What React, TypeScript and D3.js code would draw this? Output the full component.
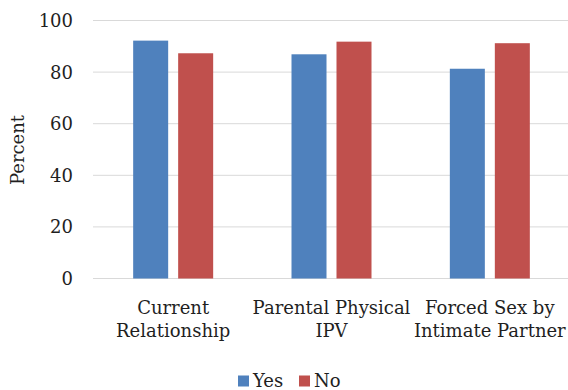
import React from "react";
import * as d3 from "d3";

const categories: string[][] = [
  ["Current", "Relationship"],
  ["Parental Physical", "IPV"],
  ["Forced Sex by", "Intimate Partner"],
];
const seriesNames = ["Yes", "No"];
const yesValues = [92.2, 86.9, 81.3];
const noValues = [87.3, 91.8, 91.2];
const yTicks = [0, 20, 40, 60, 80, 100];
const colors = ["#4f81bd", "#c0504d"];

const W = 568;
const H = 390;
const FONT = "'DejaVu Serif', serif";
const FS = 18;

export default function App() {
  const y = d3.scaleLinear().domain([0, 100]).range([278.5, 20.5]);
  const keys = categories.map((c) => c.join(" "));
  const x0 = d3.scaleBand<string>().domain(keys).range([94, 569]).padding(0);
  const groupW = 80;
  const x1 = d3
    .scaleBand<string>()
    .domain(seriesNames)
    .range([0, groupW])
    .paddingInner(0.222)
    .paddingOuter(0);
  const values = [yesValues, noValues];

  return (
    <svg
      width={W}
      height={H}
      style={{ position: "absolute", left: 0, top: 0, background: "#fff" }}
      fontFamily={FONT}
    >
      {yTicks.map((t) => (
        <g key={t}>
          <line x1={93} x2={568} y1={y(t)} y2={y(t)} stroke="#d9d9d9" strokeWidth={1} />
          <text x={73} y={y(t)} dy="0.36em" textAnchor="end" fontSize={FS} fill="#1f1f1f">
            {t}
          </text>
        </g>
      ))}
      <text
        transform={`translate(24,150) rotate(-90)`}
        textAnchor="middle"
        fontSize={FS}
        fill="#1f1f1f"
      >
        Percent
      </text>
      {keys.map((k, i) => {
        const gx = (x0(k) ?? 0) + x0.bandwidth() / 2 - groupW / 2;
        return (
          <g key={k}>
            {seriesNames.map((s, j) => (
              <rect
                key={s}
                x={gx + (x1(s) ?? 0)}
                y={y(values[j][i])}
                width={x1.bandwidth()}
                height={y(0) - y(values[j][i])}
                fill={colors[j]}
              />
            ))}
            {categories[i].map((line, li) => (
              <text
                key={li}
                x={(x0(k) ?? 0) + x0.bandwidth() / 2}
                y={313.5 + li * 23.5}
                textAnchor="middle"
                fontSize={FS}
                fill="#1f1f1f"
              >
                {line}
              </text>
            ))}
          </g>
        );
      })}
      {seriesNames.map((s, j) => {
        const lx = [238, 299][j];
        return (
          <g key={s}>
            <rect x={lx} y={375.5} width={11} height={11} fill={colors[j]} />
            <text x={lx + 15} y={386.5} fontSize={FS} fill="#1f1f1f">
              {s}
            </text>
          </g>
        );
      })}
    </svg>
  );
}
